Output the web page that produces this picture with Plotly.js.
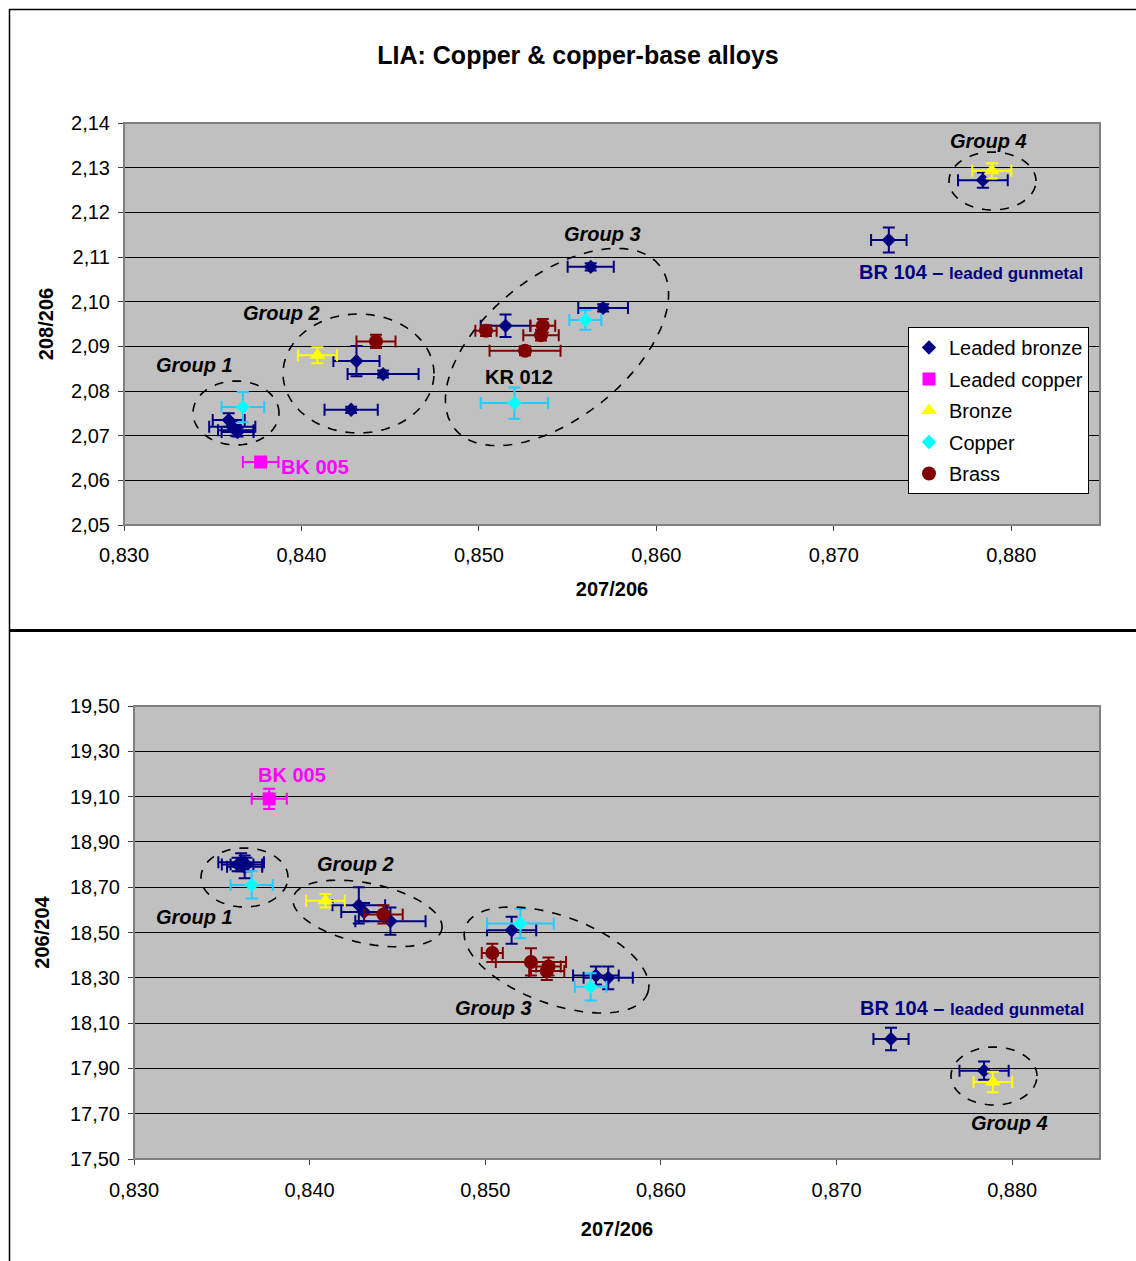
<!DOCTYPE html>
<html><head><meta charset="utf-8">
<script src="https://cdn.plot.ly/plotly-3.0.1.min.js"></script>
<style>html,body{margin:0;padding:0;background:#fff}#chart{width:1136px;height:1261px}</style>
</head><body><div id="chart"></div>
<script>
// ---------- DATA ----------
const seriesNames = ['Leaded bronze', 'Leaded copper', 'Bronze', 'Copper', 'Brass'];
const xTickVals = [0.830, 0.840, 0.850, 0.860, 0.870, 0.880];

// Leaded bronze
const lbX      = [0.8359, 0.8361, 0.8364, 0.8363, 0.8431, 0.8446, 0.8428, 0.8515, 0.8563, 0.8570, 0.8731, 0.8784];
const lbY208   = [2.0735, 2.0720, 2.0708, 2.0712, 2.0867, 2.0838, 2.0758, 2.0946, 2.1078, 2.0986, 2.1138, 2.1272];
const lbY206   = [18.80, 18.81, 18.80, 18.79, 18.59, 18.55, 18.62, 18.51, 18.31, 18.30, 18.03, 17.89];
const lbXerr   = [0.0009, 0.0013, 0.0009, 0.0010, 0.0013, 0.0020, 0.0015, 0.0014, 0.0013, 0.0014, 0.0010, 0.0014];
const lbY208e  = [0.0015, 0.0012, 0.0010, 0.0012, 0.0034, 0.0008, 0.0007, 0.0025, 0.0008, 0.0008, 0.0028, 0.0017];
const lbY206e  = [0.03, 0.04, 0.03, 0.05, 0.04, 0.06, 0.08, 0.06, 0.04, 0.05, 0.05, 0.04];

// Leaded copper
const lcX      = [0.8377];
const lcY208   = [2.0641];
const lcY206   = [19.09];
const lcXerr   = [0.0010];
const lcY208e  = [0.0010];
const lcY206e  = [0.045];

// Bronze
const brX      = [0.8409, 0.8789];
const brY208   = [2.0880, 2.1293];
const brY206   = [18.64, 17.84];
const brXerr   = [0.0011, 0.0011];
const brY208e  = [0.0018, 0.0017];
const brY206e  = [0.03, 0.045];

// Copper
const cuX      = [0.8367, 0.8520, 0.8560];
const cuY208   = [2.0764, 2.0773, 2.0959];
const cuY206   = [18.71, 18.54, 18.26];
const cuXerr   = [0.0012, 0.0019, 0.0009];
const cuY208e  = [0.0034, 0.0035, 0.0022];
const cuY206e  = [0.06, 0.065, 0.06];

// Brass
const bsX      = [0.8442, 0.8504, 0.8526, 0.8536, 0.8535];
const bsY208   = [2.0911, 2.0935, 2.0890, 2.0946, 2.0925];
const bsY206   = [18.58, 18.41, 18.37, 18.35, 18.33];
const bsXerr   = [0.0011, 0.0006, 0.0020, 0.0007, 0.0010];
const bsY208e  = [0.0015, 0.0012, 0.0010, 0.0015, 0.0012];
const bsY206e  = [0.04, 0.04, 0.06, 0.04, 0.04];

// ---------- STYLE ----------
const W = 1136, H = 1261;
const FONT = 'Liberation Sans, Arial, Helvetica, sans-serif';
const px = v => v / W;
const py = v => 1 - v / H;

const styles = [
  {sym: 'diamond', size: 11, col: '#000080', ecol: '#000080'},
  {sym: 'square', size: 13, col: '#FF00FF', ecol: '#FF00FF'},
  {sym: 'triangle-up', size: 14, col: '#FFFF00', ecol: '#FFFF00'},
  {sym: 'diamond', size: 11, col: '#00FFFF', ecol: '#22CCFF'},
  {sym: 'circle', size: 14, col: '#800000', ecol: '#800000'}
];
const sets = [
  [lbX, lbY208, lbY206, lbXerr, lbY208e, lbY206e],
  [lcX, lcY208, lcY206, lcXerr, lcY208e, lcY206e],
  [brX, brY208, brY206, brXerr, brY208e, brY206e],
  [cuX, cuY208, cuY206, cuXerr, cuY208e, cuY206e],
  [bsX, bsY208, bsY206, bsXerr, bsY208e, bsY206e]
];

const traces = [];
sets.forEach((d, i) => {
  const s = styles[i];
  const common = {
    type: 'scatter', mode: 'markers', name: seriesNames[i], legendgroup: 'g' + i,
    marker: {symbol: s.sym, size: s.size, color: s.col, line: {width: 0}},
    hoverinfo: 'x+y+name'
  };
  traces.push(Object.assign({}, common, {
    x: d[0], y: d[1], xaxis: 'x', yaxis: 'y', showlegend: true,
    error_x: {type: 'data', array: d[3], color: s.ecol, thickness: 2, width: 6},
    error_y: {type: 'data', array: d[4], color: s.ecol, thickness: 2, width: 6}
  }));
  traces.push(Object.assign({}, common, {
    x: d[0], y: d[2], xaxis: 'x2', yaxis: 'y2', showlegend: false,
    error_x: {type: 'data', array: d[3], color: s.ecol, thickness: 2, width: 6},
    error_y: {type: 'data', array: d[5], color: s.ecol, thickness: 2, width: 6}
  }));
});

// ellipse path in figure pixels -> paper coords
function ellipse(cx, cy, a, b, deg) {
  const th = deg * Math.PI / 180;
  let p = '';
  const n = 72;
  for (let k = 0; k <= n; k++) {
    const t = 2 * Math.PI * k / n;
    const sx = cx + a * Math.cos(t) * Math.cos(th) - b * Math.sin(t) * Math.sin(th);
    const sy = cy - (a * Math.cos(t) * Math.sin(th) + b * Math.sin(t) * Math.cos(th));
    p += (k === 0 ? 'M' : 'L') + px(sx).toFixed(5) + ',' + py(sy).toFixed(5);
  }
  return p + 'Z';
}
const ellDash = {color: '#000', width: 1.6, dash: 'dash'};
const ellipses = [
  [236, 413, 43, 32, 0],
  [358.5, 373.5, 75.5, 59.5, 0],
  [557, 347, 131, 71, 38.5],
  [992.5, 181, 43.5, 29, 0],
  [244.5, 877.5, 43.5, 29.5, 0],
  [367.5, 913.5, 76, 30, -12],
  [556.5, 960, 97, 44, -20],
  [994, 1076, 43, 29, 0]
];
const shapes = ellipses.map(e => ({
  type: 'path', xref: 'paper', yref: 'paper', path: ellipse(e[0], e[1], e[2], e[3], e[4]), line: ellDash
}));
// plot borders
['', '2'].forEach(k => {
  shapes.push({type: 'rect', xref: 'x' + k + ' domain', yref: 'y' + k + ' domain', x0: 0, x1: 1, y0: 0, y1: 1,
    line: {color: '#808080', width: 2}, layer: 'above'});
});
// frame lines
shapes.push({type: 'line', xref: 'paper', yref: 'paper', x0: px(9), x1: 1, y0: py(9.5), y1: py(9.5), line: {color: '#000', width: 1.5}});
shapes.push({type: 'line', xref: 'paper', yref: 'paper', x0: px(9.5), x1: px(9.5), y0: py(9), y1: 0, line: {color: '#000', width: 1.5}});
shapes.push({type: 'line', xref: 'paper', yref: 'paper', x0: px(9), x1: 1, y0: py(630.5), y1: py(630.5), line: {color: '#000', width: 3}});

function ann(text, x, y, color, size) {
  return {xref: 'paper', yref: 'paper', x: px(x), y: py(y), xanchor: 'center', yanchor: 'middle',
    text: text, showarrow: false, font: {family: FONT, size: size || 20, color: color || '#000'}};
}
const gunmetal = '<b>BR 104 – <span style="font-size:17px">leaded gunmetal</span></b>';
const annotations = [
  ann('<b><i>Group 1</i></b>', 194, 365),
  ann('<b><i>Group 2</i></b>', 281, 313),
  ann('<b><i>Group 3</i></b>', 602, 234),
  ann('<b><i>Group 4</i></b>', 988, 141),
  ann('<b>BK 005</b>', 315, 467, '#FF00FF'),
  ann('<b>KR 012</b>', 519, 377),
  ann(gunmetal, 971, 272, '#000080'),
  ann('<b>BK 005</b>', 292, 775, '#FF00FF'),
  ann('<b><i>Group 2</i></b>', 355, 864),
  ann('<b><i>Group 1</i></b>', 194, 917),
  ann('<b><i>Group 3</i></b>', 493, 1008),
  ann(gunmetal, 972, 1008, '#000080'),
  ann('<b><i>Group 4</i></b>', 1009, 1123)
];

const axCommon = {
  ticks: 'outside', ticklen: 5, tickwidth: 1, tickcolor: '#404040',
  showline: true, linecolor: '#404040', linewidth: 1, zeroline: false,
  tickfont: {family: FONT, size: 20, color: '#000'}
};
const xCommon = Object.assign({}, axCommon, {
  range: [0.830, 0.885], tickvals: xTickVals, tickformat: '.3f', showgrid: false
});

const layout = {
  width: W, height: H,
  margin: {l: 0, r: 0, t: 0, b: 0},
  paper_bgcolor: '#FFFFFF', plot_bgcolor: '#C0C0C0',
  separators: ', ',
  font: {family: FONT, size: 20, color: '#000'},
  showlegend: true,
  title: {text: '<b>LIA: Copper & copper-base alloys</b>', x: px(578), xanchor: 'center',
    y: py(55), yanchor: 'middle', font: {family: FONT, size: 25, color: '#000'}},
  xaxis: Object.assign({}, xCommon, {domain: [px(124), px(1100)], anchor: 'y', ticklabelstandoff: 7,
    title: {text: '<b>207/206</b>', font: {family: FONT, size: 20}, standoff: 16}}),
  yaxis: Object.assign({}, axCommon, {domain: [py(525), py(123)], anchor: 'x', range: [2.05, 2.14],
    dtick: 0.01, tick0: 2.05, tickformat: '.2f', showgrid: true, gridcolor: '#000', gridwidth: 1,
    ticklabelstandoff: 4,
    title: {text: '<b>208/206</b>', font: {family: FONT, size: 20}, standoff: 12}}),
  xaxis2: Object.assign({}, xCommon, {domain: [px(134), px(1100)], anchor: 'y2', ticklabelstandoff: 8,
    title: {text: '<b>207/206</b>', font: {family: FONT, size: 20}, standoff: 21}}),
  yaxis2: Object.assign({}, axCommon, {domain: [py(1159), py(706)], anchor: 'x2', range: [17.5, 19.5],
    dtick: 0.2, tick0: 17.5, tickformat: '.2f', showgrid: true, gridcolor: '#000', gridwidth: 1,
    ticklabelstandoff: 4,
    title: {text: '<b>206/204</b>', font: {family: FONT, size: 20}, standoff: 14}}),
  legend: {x: px(908), y: py(327), xanchor: 'left', yanchor: 'top', bgcolor: '#FFFFFF',
    bordercolor: '#000', borderwidth: 1, font: {family: FONT, size: 20, color: '#000'},
    traceorder: 'grouped', tracegroupgap: 2.5, itemwidth: 30},
  shapes: shapes,
  annotations: annotations
};

Plotly.newPlot('chart', traces, layout, {displayModeBar: false, staticPlot: true});
</script>
</body></html>
